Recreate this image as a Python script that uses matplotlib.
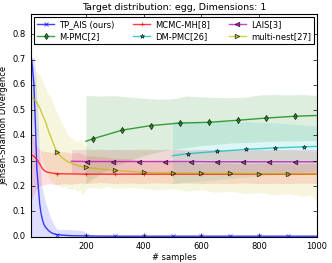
import matplotlib
matplotlib.use("Agg")
import matplotlib.pyplot as plt

plt.style.use('classic')
plt.rcParams['font.family'] = ['DejaVu Sans']

title = "Target distribution: egg, Dimensions: 1"
xlabel = "# samples"
ylabel = "Jensen-Shannon Divergence"
labels = ["TP_AIS (ours)", "M-PMC[2]", "MCMC-MH[8]", "DM-PMC[26]", "LAIS[3]", "multi-nest[27]"]

# TP_AIS (ours)
tp_x = [10, 15, 20, 25, 30, 35, 40, 45, 50, 55, 60, 70, 80, 90, 100, 120, 150, 200, 300, 400, 500, 600, 700, 800, 900, 1000]
tp_y = [0.72, 0.67, 0.60, 0.45, 0.27, 0.20, 0.13, 0.09, 0.065, 0.048, 0.038, 0.025, 0.016, 0.011, 0.008, 0.006, 0.004, 0.003, 0.002, 0.002, 0.002, 0.002, 0.002, 0.002, 0.002, 0.002]
tp_mark = [100, 200, 300, 400, 500, 600, 700, 800, 900]
tpb_x = [10, 20, 25, 30, 35, 40, 47, 58, 76, 93, 100, 110, 130, 150, 170, 190, 205, 230, 300, 400, 500, 600, 700, 800, 900, 1000]
tpb_hi = [0.70, 0.71, 0.66, 0.55, 0.45, 0.32, 0.20, 0.145, 0.08, 0.04, 0.03, 0.028, 0.029, 0.028, 0.027, 0.024, 0.010, 0.005, 0.005, 0.005, 0.005, 0.005, 0.005, 0.005, 0.005, 0.005]
tpb_lo = [0.0] * len(tpb_x)

# MCMC-MH[8]
mh_x = [10, 20, 30, 40, 50, 60, 70, 80, 100, 150, 200, 300, 400, 500, 600, 700, 800, 900, 1000]
mh_y = [0.325, 0.318, 0.306, 0.288, 0.268, 0.258, 0.254, 0.252, 0.249, 0.248, 0.247, 0.247, 0.247, 0.247, 0.247, 0.247, 0.247, 0.247, 0.247]
mh_mark = [100, 200, 300, 400, 500, 600, 700, 800, 900]
mhb_x = [10, 20, 30, 40, 50, 75, 100, 125, 150, 175, 200, 250, 300, 350, 400, 450, 500, 550, 600, 650, 700, 750, 800, 850, 900, 950, 1000]
mhb_hi = [0.42, 0.39, 0.36, 0.345, 0.338, 0.335, 0.333, 0.336, 0.33, 0.334, 0.32, 0.318, 0.31, 0.308, 0.30, 0.302, 0.295, 0.293, 0.29, 0.292, 0.29, 0.288, 0.29, 0.289, 0.29, 0.288, 0.29]
mhb_lo = [0.14, 0.17, 0.19, 0.20, 0.205, 0.21, 0.205, 0.21, 0.207, 0.212, 0.21, 0.214, 0.21, 0.212, 0.21, 0.213, 0.21, 0.212, 0.21, 0.211, 0.21, 0.212, 0.21, 0.211, 0.21, 0.212, 0.21]

# LAIS[3]
la_x = [150, 205, 295, 385, 475, 565, 655, 745, 835, 925, 1000]
la_y = [0.298, 0.297, 0.297, 0.297, 0.297, 0.297, 0.296, 0.296, 0.296, 0.296, 0.296]
la_mark = [205, 295, 385, 475, 565, 655, 745, 835, 925]
la_hi = [0.345, 0.344, 0.345, 0.344, 0.345, 0.344, 0.345, 0.344, 0.345, 0.344, 0.345]
la_lo = [0.25, 0.25, 0.25, 0.25, 0.25, 0.25, 0.25, 0.25, 0.25, 0.25, 0.25]

# M-PMC[2]
mp_x = [200, 225, 325, 425, 525, 625, 725, 825, 925, 1000]
mp_y = [0.377, 0.387, 0.421, 0.439, 0.449, 0.452, 0.460, 0.469, 0.476, 0.479]
mp_mark = [225, 325, 425, 525, 625, 725, 825, 925]
mpb_x = [200, 250, 300, 350, 400, 450, 500, 550, 600, 650, 700, 750, 800, 850, 900, 950, 1000]
mpb_hi = [0.558, 0.556, 0.557, 0.552, 0.547, 0.543, 0.545, 0.556, 0.553, 0.550, 0.549, 0.551, 0.560, 0.562, 0.560, 0.562, 0.558]
mpb_lo = [0.21, 0.25, 0.28, 0.30, 0.32, 0.335, 0.345, 0.352, 0.36, 0.365, 0.37, 0.372, 0.375, 0.377, 0.378, 0.379, 0.38]

# DM-PMC[26]
dm_x = [500, 553, 654, 754, 854, 954, 1000]
dm_y = [0.320, 0.328, 0.337, 0.345, 0.351, 0.355, 0.357]
dm_mark = [553, 654, 754, 854, 954]
dmb_x = [500, 550, 600, 650, 700, 750, 800, 850, 900, 950, 1000]
dmb_hi = [0.455, 0.456, 0.455, 0.456, 0.455, 0.454, 0.452, 0.450, 0.446, 0.442, 0.437]
dmb_lo = [0.21, 0.215, 0.22, 0.225, 0.23, 0.235, 0.24, 0.245, 0.25, 0.255, 0.26]

# multi-nest[27]
mn_x = [10, 20, 30, 40, 50, 60, 70, 80, 90, 100, 120, 135, 150, 175, 200, 250, 300, 400, 500, 600, 700, 800, 900, 1000]
mn_y = [0.55, 0.545, 0.53, 0.51, 0.48, 0.455, 0.42, 0.39, 0.36, 0.333, 0.31, 0.298, 0.29, 0.28, 0.274, 0.268, 0.262, 0.254, 0.252, 0.251, 0.250, 0.249, 0.249, 0.248]
mn_mark = [100, 200, 300, 400, 500, 600, 700, 800, 900]
mnb_x = [10, 20, 30, 40, 50, 60, 70, 80, 90, 100, 110, 120, 130, 140, 150, 160, 170, 180, 190, 200, 225, 250, 275, 300, 350, 400, 450, 500, 550, 600, 650, 700, 750, 800, 850, 900, 950, 980, 1000]
mnb_hi = [0.58, 0.63, 0.655, 0.64, 0.615, 0.59, 0.565, 0.55, 0.515, 0.49, 0.465, 0.445, 0.42, 0.40, 0.39, 0.38, 0.375, 0.385, 0.37, 0.355, 0.345, 0.35, 0.34, 0.345, 0.34, 0.35, 0.34, 0.345, 0.34, 0.345, 0.34, 0.345, 0.34, 0.345, 0.34, 0.345, 0.34, 0.338, 0.335]
mnb_lo = [0.46, 0.44, 0.40, 0.35, 0.30, 0.27, 0.24, 0.22, 0.21, 0.205, 0.20, 0.195, 0.20, 0.19, 0.185, 0.19, 0.18, 0.185, 0.165, 0.19, 0.195, 0.19, 0.20, 0.19, 0.195, 0.19, 0.185, 0.19, 0.18, 0.185, 0.175, 0.18, 0.17, 0.175, 0.165, 0.17, 0.16, 0.165, 0.14]

fig = plt.figure(figsize=(3.32, 2.63), dpi=100, facecolor='white')
ax = fig.add_axes([0.0934, 0.100, 0.8614, 0.8468])
ax.set_facecolor('white')

series = [
    ("b", "x", tp_x, tp_y, tp_mark, tpb_x, tpb_lo, tpb_hi, labels[0]),
    ("g", "d", mp_x, mp_y, mp_mark, mpb_x, mpb_lo, mpb_hi, labels[1]),
    ("r", "+", mh_x, mh_y, mh_mark, mhb_x, mhb_lo, mhb_hi, labels[2]),
    ("c", "*", dm_x, dm_y, dm_mark, dmb_x, dmb_lo, dmb_hi, labels[3]),
    ("m", "<", la_x, la_y, la_mark, la_x, la_lo, la_hi, labels[4]),
    ("y", ">", mn_x, mn_y, mn_mark, mnb_x, mnb_lo, mnb_hi, labels[5]),
]

for col, mk, x, y, marks, bx, blo, bhi, lab in series:
    ax.fill_between(bx, blo, bhi, color=col, alpha=0.13, linewidth=0)
for col, mk, x, y, marks, bx, blo, bhi, lab in series:
    idx = [x.index(m) for m in marks if m in x]
    ax.plot(x, y, color=col, marker=mk, markevery=idx, markersize=3.2,
            markeredgewidth=0.6, linewidth=1.0, alpha=0.75, label=lab)

ax.set_xlim(10, 1000)
ax.set_ylim(0, 0.88)
ax.set_xticks([200, 400, 600, 800, 1000])
ax.set_yticks([0.0, 0.1, 0.2, 0.3, 0.4, 0.5, 0.6, 0.7, 0.8])
ax.tick_params(labelsize=6, length=3, width=0.5)
for s in ax.spines.values():
    s.set_linewidth(0.8)
ax.set_title(title, fontsize=6.8, pad=3)
ax.set_xlabel(xlabel, fontsize=6, labelpad=1)
ax.set_ylabel(ylabel, fontsize=6, labelpad=3)
leg = ax.legend(ncol=3, loc='upper center', fontsize=6, numpoints=1,
                handlelength=2.0, columnspacing=2.3, borderaxespad=0.35,
                handletextpad=0.6, labelspacing=0.3, borderpad=0.4)
leg.get_frame().set_linewidth(0.8)

fig.savefig("out.png", dpi=100, facecolor='white')
